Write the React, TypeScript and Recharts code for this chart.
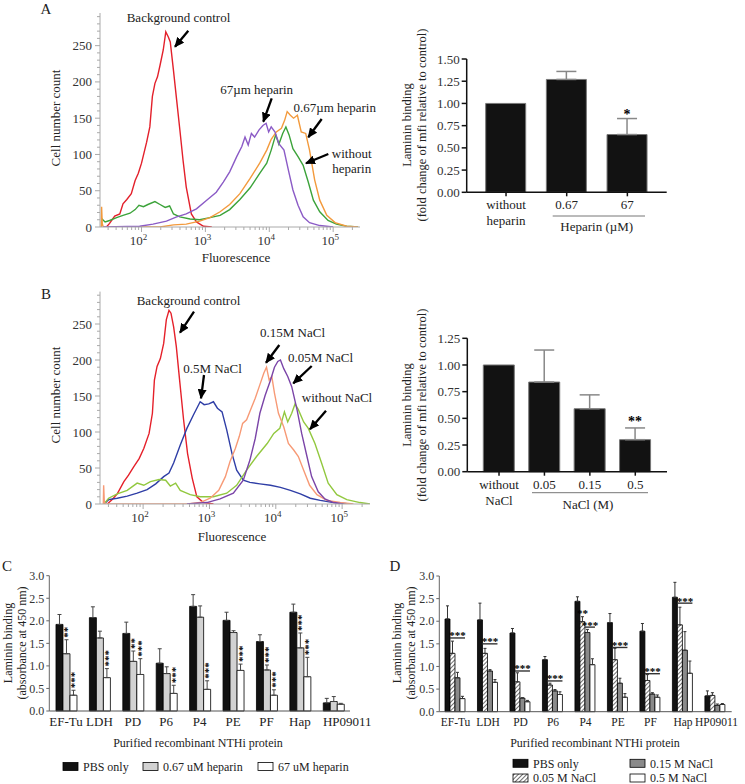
import React from 'react'
import {
  LineChart,
  Line,
  XAxis,
  YAxis,
  BarChart,
  Bar,
  ComposedChart,
  ErrorBar,
  LabelList,
  Legend
} from 'recharts'

const FONT = '"Liberation Serif", "DejaVu Serif", serif'

// ---------- flow cytometry histograms: [log10 fluorescence, cell count]
const bgControlA: [number, number][] = [
  [1.45, 0], [1.50, 5], [1.58, 15], [1.66, 18], [1.71, 32], [1.77, 38], [1.84, 46], [1.90, 64], [1.95, 74],
  [2.00, 88], [2.08, 117], [2.13, 138], [2.17, 180], [2.21, 198], [2.25, 207], [2.29, 223], [2.34, 244],
  [2.38, 269], [2.42, 262], [2.45, 255], [2.50, 216], [2.55, 175], [2.60, 134], [2.65, 92], [2.70, 55],
  [2.78, 18], [2.86, 7], [2.97, 1], [3.10, 0]
]
const withoutHeparinA: [number, number][] = [
  [1.37, 12], [1.43, 7], [1.50, 9], [1.61, 13], [1.71, 16], [1.82, 19], [1.90, 24], [1.96, 30], [2.03, 28],
  [2.10, 31], [2.21, 35], [2.29, 31], [2.37, 27], [2.44, 29], [2.50, 18], [2.60, 14], [2.76, 11], [2.91, 10],
  [3.07, 13], [3.23, 16], [3.38, 24], [3.54, 38], [3.70, 54], [3.85, 74], [3.96, 88], [4.03, 106], [4.10, 127],
  [4.15, 114], [4.21, 129], [4.26, 138], [4.31, 127], [4.37, 108], [4.45, 97], [4.53, 85], [4.61, 62],
  [4.69, 37], [4.79, 21], [4.92, 9], [5.05, 4], [5.21, 1], [5.39, 0]
]
const heparin067A: [number, number][] = [
  [1.37, 0], [1.375, 28], [1.385, 5], [1.40, 0], [2.29, 0], [2.50, 3], [2.70, 4], [2.91, 8], [3.07, 13],
  [3.23, 21], [3.38, 31], [3.54, 46], [3.70, 67], [3.85, 88], [3.96, 106], [4.03, 121], [4.11, 131],
  [4.19, 136], [4.24, 147], [4.28, 159], [4.33, 154], [4.38, 150], [4.44, 154], [4.50, 131], [4.57, 129],
  [4.63, 106], [4.71, 65], [4.79, 37], [4.90, 16], [5.03, 6], [5.21, 1], [5.39, 0]
]
const heparin67A: [number, number][] = [
  [1.40, 0], [1.97, 1], [2.18, 4], [2.39, 8], [2.55, 14], [2.70, 18], [2.86, 25], [3.02, 37], [3.17, 48],
  [3.28, 62], [3.38, 76], [3.49, 97], [3.57, 111], [3.62, 124], [3.67, 113], [3.72, 129], [3.77, 124],
  [3.84, 134], [3.90, 140], [3.95, 143], [3.99, 131], [4.03, 138], [4.09, 131], [4.15, 115], [4.23, 106],
  [4.30, 78], [4.37, 51], [4.45, 30], [4.53, 14], [4.63, 6], [4.79, 2], [5.00, 0]
]

const bgControlB: [number, number][] = [
  [1.46, 0], [1.53, 6], [1.61, 14], [1.71, 31], [1.78, 40], [1.86, 52], [1.94, 63], [2.01, 77], [2.09, 98],
  [2.14, 126], [2.17, 172], [2.21, 191], [2.26, 202], [2.31, 223], [2.35, 256], [2.39, 269], [2.42, 265],
  [2.46, 246], [2.50, 219], [2.55, 172], [2.61, 117], [2.67, 70], [2.74, 36], [2.81, 10], [2.91, 2], [3.06, 0]
]
const nacl05B: [number, number][] = [
  [1.41, 0], [1.48, 6], [1.61, 8], [1.76, 11], [1.91, 15], [2.06, 20], [2.19, 28], [2.31, 38], [2.39, 43],
  [2.46, 57], [2.56, 82], [2.66, 105], [2.76, 124], [2.86, 142], [2.92, 138], [2.99, 139], [3.06, 142],
  [3.12, 133], [3.19, 128], [3.26, 103], [3.34, 70], [3.41, 47], [3.51, 33], [3.61, 30], [3.76, 28],
  [3.92, 26], [4.07, 23], [4.22, 19], [4.37, 14], [4.52, 8], [4.67, 5], [4.87, 2], [5.12, 0]
]
const withoutNaclB: [number, number][] = [
  [1.41, 0], [1.48, 8], [1.61, 14], [1.76, 19], [1.91, 29], [2.01, 26], [2.11, 31], [2.24, 34], [2.34, 33],
  [2.41, 25], [2.49, 29], [2.56, 19], [2.71, 13], [2.86, 10], [3.06, 10], [3.26, 15], [3.41, 26], [3.56, 47],
  [3.71, 66], [3.87, 84], [3.97, 98], [4.06, 105], [4.13, 128], [4.18, 114], [4.24, 126], [4.29, 139],
  [4.34, 131], [4.42, 114], [4.49, 105], [4.59, 84], [4.69, 57], [4.79, 29], [4.92, 13], [5.07, 6], [5.27, 2], [5.42, 0]
]
const nacl015B: [number, number][] = [
  [1.40, 0], [1.405, 26], [1.415, 3], [1.43, 0], [2.66, 0], [2.86, 2], [3.01, 8], [3.14, 19], [3.24, 38],
  [3.31, 59], [3.39, 77], [3.45, 94], [3.50, 112], [3.56, 117], [3.62, 131], [3.69, 147], [3.75, 163],
  [3.82, 182], [3.86, 190], [3.90, 172], [3.94, 177], [3.98, 154], [4.04, 126], [4.12, 107], [4.19, 84],
  [4.27, 75], [4.34, 66], [4.42, 47], [4.51, 26], [4.62, 13], [4.77, 5], [4.97, 2], [5.17, 0]
]
const nacl005B: [number, number][] = [
  [2.66, 0], [2.96, 2], [3.16, 7], [3.36, 15], [3.51, 33], [3.61, 61], [3.69, 91], [3.76, 126], [3.84, 151],
  [3.92, 172], [3.98, 190], [4.03, 198], [4.07, 200], [4.12, 188], [4.18, 177], [4.24, 163], [4.32, 131],
  [4.39, 98], [4.47, 66], [4.54, 38], [4.64, 17], [4.74, 7], [4.87, 2], [5.02, 0]
]

const histA = [
  { name: 'Background control', data: bgControlA, color: '#e3202b' },
  { name: 'without heparin', data: withoutHeparinA, color: '#3ca33a' },
  { name: '0.67µm heparin', data: heparin067A, color: '#f39a3c' },
  { name: '67µm heparin', data: heparin67A, color: '#8b5bc6' }
]
const histB = [
  { name: 'Background control', data: bgControlB, color: '#e5202a' },
  { name: '0.5M NaCl', data: nacl05B, color: '#2f3ea6' },
  { name: 'without NaCl', data: withoutNaclB, color: '#92c83f' },
  { name: '0.15M NaCl', data: nacl015B, color: '#f79a76' },
  { name: '0.05M NaCl', data: nacl005B, color: '#7b45a8' }
]

const logDecades = [1, 2, 3, 4, 5]
const logMultipliers = [1, 2, 3, 4, 5, 6, 7, 8, 9]
const logDomain: [number, number] = [1.35, 5.42]
const logTicks = logDecades
  .flatMap(d => logMultipliers.map(m => d + Math.log10(m)))
  .filter(v => v >= logDomain[0] && v <= logDomain[1])
const countMajor = [0, 50, 100, 150, 200, 250]
const countTicks = Array.from({ length: 30 }, (_, i) => i * 10)

// ---------- mfi bar charts
const heparinLabels = [['without', 'heparin'], ['0.67'], ['67']]
const heparinMean = [1.0, 1.27, 0.65]
const heparinErr = [null, 0.09, 0.18]
const heparinStars = ['', '', '*']

const naclLabels = [['without', 'NaCl'], ['0.05'], ['0.15'], ['0.5']]
const naclMean = [1.0, 0.84, 0.59, 0.3]
const naclErr = [null, 0.3, 0.13, 0.11]
const naclStars = ['', '', '', '**']

// ---------- ELISA panels
const proteins = ['EF-Tu', 'LDH', 'PD', 'P6', 'P4', 'PE', 'PF', 'Hap', 'HP09011']

const cPbs = [1.92, 2.07, 1.72, 1.06, 2.32, 2.01, 1.54, 2.19, 0.18]
const cPbsErr = [0.22, 0.24, 0.25, 0.32, 0.26, 0.18, 0.15, 0.18, 0.10]
const cHep067 = [1.27, 1.62, 1.10, 0.83, 2.08, 1.74, 0.91, 1.40, 0.21]
const cHep067Err = [0.31, 0.15, 0.23, 0.15, 0.25, 0.04, 0.11, 0.33, 0.11]
const cHep67 = [0.35, 0.74, 0.81, 0.39, 0.48, 0.90, 0.35, 0.76, 0.15]
const cHep67Err = [0.11, 0.20, 0.35, 0.18, 0.19, 0.14, 0.12, 0.43, 0.02]
const cHep067Stars = ['**', '', '**', '', '', '', '***', '***', '']
const cHep67Stars = ['***', '***', '***', '***', '***', '***', '***', '***', '']
const cSeriesNames = ['PBS only', '0.67 uM heparin', '67 uM heparin']

const dPbs = [2.05, 2.03, 1.74, 1.15, 2.44, 1.97, 1.78, 2.53, 0.35]
const dPbsErr = [0.29, 0.37, 0.10, 0.07, 0.10, 0.20, 0.17, 0.33, 0.11]
const dNacl005 = [1.29, 1.29, 0.66, 0.59, 1.99, 1.15, 0.69, 1.92, 0.36]
const dNacl005Err = [0.27, 0.11, 0.20, 0.04, 0.11, 0.25, 0.13, 0.39, 0.06]
const dNacl015 = [0.75, 0.90, 0.30, 0.46, 1.75, 0.63, 0.39, 1.36, 0.14]
const dNacl015Err = [0.12, 0.03, 0.01, 0.03, 0.07, 0.11, 0.03, 0.41, 0.03]
const dNacl05 = [0.29, 0.65, 0.22, 0.38, 1.04, 0.32, 0.32, 0.85, 0.16]
const dNacl05Err = [0.05, 0.06, 0.03, 0.06, 0.13, 0.08, 0.05, 0.27, 0.02]
const dNacl005Stars = ['', '', '', '', '**', '', '', '', '']
const dBracketTop = [1.63, 1.50, 0.90, 0.68, 1.87, 1.42, 0.84, 2.40, null]
const dBracketBars = [3, 3, 3, 3, 2, 3, 3, 3, 0]
const dSeriesNames = ['PBS only', '0.05 M NaCl', '0.15 M NaCl', '0.5 M NaCl']

const absTicks = [0, 0.5, 1, 1.5, 2, 2.5, 3]

const heparinData = heparinLabels.map((l, i) => ({
  cat: l.join(' '),
  val: heparinMean[i],
  err: heparinErr[i] == null ? null : [0, heparinErr[i]]
}))
const naclData = naclLabels.map((l, i) => ({
  cat: l.join(' '),
  val: naclMean[i],
  err: naclErr[i] == null ? null : [0, naclErr[i]]
}))
const cData = proteins.map((p, i) => ({
  name: p,
  pbs: cPbs[i], pbsErr: [0, cPbsErr[i]],
  h1: cHep067[i], h1Err: [0, cHep067Err[i]],
  h2: cHep67[i], h2Err: [0, cHep67Err[i]]
}))
const dData = proteins.map((p, i) => ({
  name: p,
  pbs: dPbs[i], pbsErr: [0, dPbsErr[i]],
  n1: dNacl005[i], n1Err: [0, dNacl005Err[i]],
  n2: dNacl015[i], n2Err: [0, dNacl015Err[i]],
  n3: dNacl05[i], n3Err: [0, dNacl05Err[i]]
}))

// ---------- helpers
const box = (p: any) => {
  const vb = p.viewBox || p
  return { x: Number(vb.x), y: Number(vb.y), w: Number(vb.width), h: Number(vb.height), i: p.index }
}

const LogTick = (p: any) => {
  const v = p.payload.value
  const major = Math.abs(v - Math.round(v)) < 1e-6
  return (
    <g>
      <line x1={p.x} x2={p.x} y1={p.y} y2={p.y + (major ? 5 : 3)} stroke="#aaa" />
      {major && (
        <text x={p.x - 3} y={p.y + 18} textAnchor="middle" fontSize={13} fontFamily={FONT} fill="#333">
          10<tspan dy={-5} fontSize={9}>{Math.round(v)}</tspan>
        </text>
      )}
    </g>
  )
}

const CountTick = (p: any) => {
  const v = p.payload.value
  const major = countMajor.includes(v)
  return (
    <g>
      <line x1={p.x - (major ? 5 : 3)} x2={p.x} y1={p.y} y2={p.y} stroke="#aaa" />
      {major && (
        <text x={p.x - 8} y={p.y} dy="0.35em" textAnchor="end" fontSize={13} fontFamily={FONT} fill="#333">
          {v}
        </text>
      )}
    </g>
  )
}

function Histogram({ series, width, height, margin }: any) {
  return (
    <LineChart width={width} height={height} margin={margin}>
      <XAxis
        type="number"
        dataKey="x"
        domain={logDomain}
        allowDataOverflow
        ticks={logTicks}
        interval={0}
        tick={LogTick}
        tickLine={false}
        tickSize={0}
        tickMargin={0}
        stroke="#aaa"
        height={30}
      />
      <YAxis
        type="number"
        domain={[0, 295]}
        allowDataOverflow
        ticks={countTicks}
        interval={0}
        tick={CountTick}
        tickLine={false}
        tickSize={0}
        tickMargin={0}
        stroke="#aaa"
        width={40}
      />
      {series.map((s: any) => (
        <Line
          key={s.name}
          name={s.name}
          data={s.data.map(([x, y]: [number, number]) => ({ x, y }))}
          dataKey="y"
          type="linear"
          stroke={s.color}
          strokeWidth={1.4}
          dot={false}
          isAnimationActive={false}
        />
      ))}
    </LineChart>
  )
}

const catTick = (labels: string[][], dy: number) => (p: any) => {
  const lines = labels[p.index] || []
  return (
    <g>
      {lines.map((t, k) => (
        <text key={k} x={p.x} y={p.y + dy + k * 16} textAnchor="middle" fontSize={13} fontFamily={FONT} fill="#222">
          {t}
        </text>
      ))}
    </g>
  )
}

// protein tick labels; the last one sits a little right, as in the figure
const proteinTick = (size: number, lastShift: number) => (p: any) => (
  <text
    x={p.x + (p.index === proteins.length - 1 ? lastShift : 0)}
    y={p.y}
    dy="0.71em"
    textAnchor="middle"
    fontSize={size}
    fontFamily={FONT}
    fill="#222"
  >
    {p.payload.value}
  </text>
)

const starAbove = (stars: string[], means: number[], errs: (number | null)[], lift: number, size = 14) => (p: any) => {
  const { x, y, w, h, i } = box(p)
  const s = stars[i]
  if (!s) return null
  const ppu = h / means[i]
  const top = y - (errs[i] || 0) * ppu
  return (
    <text x={x + w / 2} y={top - lift} textAnchor="middle" fontSize={size} fontWeight="bold" fontFamily={FONT} fill="#000">
      {s}
    </text>
  )
}

function MfiBars({ data, labels, stars, means, errs, yMax, ticks, margin, starLift }: any) {
  return (
    <ComposedChart width={300} height={220} data={data} margin={margin}>
      <XAxis
        dataKey="cat"
        type="category"
        padding={{ left: 9, right: 9 }}
        height={45}
        stroke="#111"
        strokeWidth={1.5}
        tickSize={4}
        tickMargin={2}
        interval={0}
        tick={catTick(labels, 11)}
      />
      <YAxis
        domain={[0, yMax]}
        ticks={ticks}
        interval={0}
        tickFormatter={(v: number) => v.toFixed(2)}
        width={40}
        stroke="#111"
        strokeWidth={1.5}
        tickSize={5}
        tickMargin={2}
        tick={{ fontSize: 13, fontFamily: FONT, fill: '#333' }}
      />
      <Bar dataKey="val" fill="#121212" stroke="#777" strokeWidth={1} barSize={labels.length === 3 ? 40 : 31} isAnimationActive={false}>
        <ErrorBar dataKey="err" width={10} stroke="#888" strokeWidth={1.5} direction="y" />
        <LabelList dataKey="val" content={starAbove(stars, means, errs, starLift)} />
      </Bar>
    </ComposedChart>
  )
}

const rotatedStars = (stars: string[], means: number[], errs: number[]) => (p: any) => {
  const { x, y, w, h, i } = box(p)
  const s = stars[i]
  if (!s) return null
  const ppu = h / means[i]
  const top = y - errs[i] * ppu
  return (
    <text transform={`translate(${x + w / 2 + 5},${top - 2}) rotate(-90)`} fontSize={11} fontWeight="bold" fontFamily={FONT} fill="#000">
      {s}
    </text>
  )
}

const bracketLabel = (p: any) => {
  const { x, y, w, h, i } = box(p)
  const top = dBracketTop[i]
  if (top == null) return null
  const ppu = h / dNacl05[i]
  const ly = y - (top - dNacl05[i]) * ppu
  const left = x - (dBracketBars[i] - 1) * w
  const right = x + w
  return (
    <g>
      <line x1={left} x2={right} y1={ly} y2={ly} stroke="#333" strokeWidth={1.4} />
      <text x={(left + right) / 2} y={ly + 1.5} textAnchor="middle" fontSize={11} fontWeight="bold" fontFamily={FONT} fill="#000">
        ***
      </text>
    </g>
  )
}

const absAxis = (
  <YAxis
    domain={[0, 3]}
    ticks={absTicks}
    interval={0}
    tickFormatter={(v: number) => v.toFixed(1)}
    width={35}
    stroke="#666"
    tickSize={3}
    tickMargin={2}
    tick={{ fontSize: 12, fontFamily: FONT, fill: '#333' }}
  />
)

const cSwatches = ['#121212', '#d2d2d2', '#ffffff']
const cLegendX = [63, 143, 258]
const LegendC = () => (
  <svg width={380} height={22}>
    {cSeriesNames.map((n, i) => (
      <g key={n}>
        <rect x={cLegendX[i]} y={6.5} width={15} height={8} fill={cSwatches[i]} stroke="#000" strokeWidth={0.8} />
        <text x={cLegendX[i] + 20} y={15} fontSize={12} fontFamily={FONT} fill="#222">{n}</text>
      </g>
    ))}
  </svg>
)

const dSwatches = ['#121212', 'url(#hatchD)', '#8a8a8a', '#ffffff']
const dLegendPos = [[133, 8.3], [133, 23], [250, 8.3], [250, 23]]
const LegendD = () => (
  <svg width={365} height={32}>
    {dSeriesNames.map((n, i) => (
      <g key={n}>
        <rect x={dLegendPos[i][0]} y={dLegendPos[i][1] - 4} width={15} height={8} fill={dSwatches[i]} stroke="#000" strokeWidth={0.8} />
        <text x={dLegendPos[i][0] + 20} y={dLegendPos[i][1] + 4.2} fontSize={12} fontFamily={FONT} fill="#222">{n}</text>
      </g>
    ))}
  </svg>
)

const T = (props: any) => <text fontFamily={FONT} fill="#222" textAnchor="middle" fontSize={13} {...props} />
const RT = ({ x, y, children, size = 13 }: any) => (
  <text
    transform={`translate(${x},${y}) rotate(-90)`}
    textAnchor="middle"
    dominantBaseline="central"
    fontFamily={FONT}
    fontSize={size}
    fill="#222"
  >
    {children}
  </text>
)
const Arrow = ({ x1, y1, x2, y2 }: any) => (
  <line x1={x1} y1={y1} x2={x2} y2={y2} stroke="#000" strokeWidth={2.3} markerEnd="url(#arrowHead)" />
)

export default function App() {
  return (
    <div style={{ position: 'absolute', left: 0, top: 0, width: 745, height: 784, background: '#fff', fontFamily: FONT }}>
      <svg width={0} height={0} style={{ position: 'absolute' }}>
        <defs>
          <pattern id="hatchD" patternUnits="userSpaceOnUse" width={3} height={3} patternTransform="rotate(45)">
            <rect width={3} height={3} fill="#fff" />
            <line x1={0} y1={0} x2={0} y2={3} stroke="#222" strokeWidth={1.3} />
          </pattern>
        </defs>
      </svg>

      <div style={{ position: 'absolute', left: 0, top: 0 }}>
        <Histogram series={histA} width={380} height={270} margin={{ top: 13, right: 20, left: 60, bottom: 13 }} />
      </div>
      <div style={{ position: 'absolute', left: 0, top: 280 }}>
        <Histogram series={histB} width={390} height={270} margin={{ top: 11.6, right: 20, left: 60, bottom: 16 }} />
      </div>

      <div style={{ position: 'absolute', left: 380, top: 30 }}>
        <MfiBars
          data={heparinData}
          labels={heparinLabels}
          stars={heparinStars}
          means={heparinMean}
          errs={heparinErr}
          yMax={1.5}
          ticks={[0, 0.25, 0.5, 0.75, 1, 1.25, 1.5]}
          margin={{ top: 29, right: 13.3, left: 46.7, bottom: 12.7 }}
          starLift={0}
        />
      </div>
      <div style={{ position: 'absolute', left: 380, top: 310 }}>
        <MfiBars
          data={naclData}
          labels={naclLabels}
          stars={naclStars}
          means={naclMean}
          errs={naclErr}
          yMax={1.25}
          ticks={[0, 0.25, 0.5, 0.75, 1, 1.25]}
          margin={{ top: 28.3, right: 13, left: 47.3, bottom: 13.3 }}
          starLift={2}
        />
      </div>

      <div style={{ position: 'absolute', left: 0, top: 560 }}>
        <BarChart width={380} height={224} data={cData} margin={{ top: 15.7, right: 30, left: 14.3, bottom: 53 }} barGap={0} barCategoryGap="20%">
          <XAxis dataKey="name" stroke="#555" tickLine={false} tickSize={0} tickMargin={6} interval={0} height={20} tick={proteinTick(13, 14)} />
          {absAxis}
          <Legend verticalAlign="middle" align="center" layout="horizontal" wrapperStyle={{ left: 0, top: 196, width: 380 }} content={LegendC} />
          <Bar dataKey="pbs" name={cSeriesNames[0]} fill={cSwatches[0]} stroke="#000" strokeWidth={0.8} isAnimationActive={false}>
            <ErrorBar dataKey="pbsErr" width={2} stroke="#444" strokeWidth={1} direction="y" />
          </Bar>
          <Bar dataKey="h1" name={cSeriesNames[1]} fill={cSwatches[1]} stroke="#000" strokeWidth={0.8} isAnimationActive={false}>
            <ErrorBar dataKey="h1Err" width={2} stroke="#444" strokeWidth={1} direction="y" />
            <LabelList dataKey="h1" content={rotatedStars(cHep067Stars, cHep067, cHep067Err)} />
          </Bar>
          <Bar dataKey="h2" name={cSeriesNames[2]} fill={cSwatches[2]} stroke="#000" strokeWidth={0.8} isAnimationActive={false}>
            <ErrorBar dataKey="h2Err" width={2} stroke="#444" strokeWidth={1} direction="y" />
            <LabelList dataKey="h2" content={rotatedStars(cHep67Stars, cHep67, cHep67Err)} />
          </Bar>
        </BarChart>
      </div>

      <div style={{ position: 'absolute', left: 380, top: 560 }}>
        <BarChart width={365} height={224} data={dData} margin={{ top: 16, right: 13.3, left: 24.3, bottom: 52.3 }} barGap={0} barCategoryGap="17.5%">
          <XAxis dataKey="name" stroke="#555" tickLine={false} tickSize={0} tickMargin={6} interval={0} height={20} tick={proteinTick(11.5, 1)} />
          {absAxis}
          <Legend verticalAlign="middle" align="center" layout="horizontal" wrapperStyle={{ left: 0, top: 195, width: 365 }} content={LegendD} />
          <Bar dataKey="pbs" name={dSeriesNames[0]} fill={dSwatches[0]} stroke="#000" strokeWidth={0.8} isAnimationActive={false}>
            <ErrorBar dataKey="pbsErr" width={1.5} stroke="#333" strokeWidth={1} direction="y" />
          </Bar>
          <Bar dataKey="n1" name={dSeriesNames[1]} fill={dSwatches[1]} stroke="#000" strokeWidth={0.8} isAnimationActive={false}>
            <ErrorBar dataKey="n1Err" width={1.5} stroke="#333" strokeWidth={1} direction="y" />
            <LabelList dataKey="n1" content={starAbove(dNacl005Stars, dNacl005, dNacl005Err, -0.5, 11)} />
          </Bar>
          <Bar dataKey="n2" name={dSeriesNames[2]} fill={dSwatches[2]} stroke="#000" strokeWidth={0.8} isAnimationActive={false}>
            <ErrorBar dataKey="n2Err" width={1.5} stroke="#333" strokeWidth={1} direction="y" />
          </Bar>
          <Bar dataKey="n3" name={dSeriesNames[3]} fill={dSwatches[3]} stroke="#000" strokeWidth={0.8} isAnimationActive={false}>
            <ErrorBar dataKey="n3Err" width={1.5} stroke="#333" strokeWidth={1} direction="y" />
            <LabelList dataKey="n3" content={bracketLabel} />
          </Bar>
        </BarChart>
      </div>

      {/* annotations, titles and panel letters */}
      <svg width={745} height={784} style={{ position: 'absolute', left: 0, top: 0, pointerEvents: 'none' }}>
        <defs>
          <marker id="arrowHead" markerUnits="userSpaceOnUse" markerWidth={10} markerHeight={9} refX={9} refY={4.5} orient="auto">
            <path d="M0,0 L10,4.5 L0,9 z" fill="#000" />
          </marker>
        </defs>

        <T x={46} y={14} fontSize={15}>A</T>
        <T x={178.5} y={22}>Background control</T>
        <Arrow x1={188.3} y1={30.7} x2={175} y2={46.7} />
        <T x={256.7} y={93.5}>67µm heparin</T>
        <Arrow x1={271.7} y1={98.3} x2={263.3} y2={121.7} />
        <T x={334.7} y={111.5}>0.67µm heparin</T>
        <Arrow x1={321.7} y1={119} x2={308.3} y2={137.3} />
        <T x={351.7} y={158}>without</T>
        <T x={351.7} y={173}>heparin</T>
        <Arrow x1={328.3} y1={154} x2={306} y2={163.3} />
        <T x={236} y={262}>Fluorescence</T>
        <RT x={55} y={118}>Cell number count</RT>

        <RT x={406.7} y={125} size={12.5}>Laminin binding</RT>
        <RT x={421.7} y={125} size={12.5}>(fold change of mfi relative to control)</RT>
        <line x1={552.7} x2={645} y1={216} y2={216} stroke="#777" strokeWidth={1} />
        <T x={596.7} y={231}>Heparin (µM)</T>

        <T x={46} y={299} fontSize={15}>B</T>
        <T x={188.5} y={305}>Background control</T>
        <Arrow x1={194} y1={311.7} x2={180} y2={332.7} />
        <T x={212.5} y={372.5}>0.5M NaCl</T>
        <Arrow x1={204} y1={375} x2={201} y2={398.3} />
        <T x={292.5} y={337}>0.15M NaCl</T>
        <Arrow x1={279.3} y1={345} x2={266} y2={362.7} />
        <T x={320.5} y={361.5}>0.05M NaCl</T>
        <Arrow x1={311.7} y1={366} x2={293.3} y2={383.3} />
        <T x={337} y={402}>without NaCl</T>
        <Arrow x1={326} y1={410.7} x2={310} y2={429.3} />
        <T x={232} y={541}>Fluorescence</T>
        <RT x={55} y={395}>Cell number count</RT>

        <RT x={406.7} y={405} size={12.5}>Laminin binding</RT>
        <RT x={421.7} y={405} size={12.5}>(fold change of mfi relative to control)</RT>
        <line x1={532} x2={648} y1={492.7} y2={492.7} stroke="#777" strokeWidth={1} />
        <T x={588} y={508.5}>NaCl (M)</T>

        <T x={7} y={571} fontSize={15}>C</T>
        <RT x={8} y={643} size={12}>Laminin binding</RT>
        <RT x={22} y={643} size={12}>(absorbance at 450 nm)</RT>
        <T x={198} y={747} fontSize={12}>Purified recombinant NTHi protein</T>

        <T x={395} y={571} fontSize={15}>D</T>
        <RT x={396.7} y={643} size={12}>Laminin binding</RT>
        <RT x={410.5} y={643} size={12}>(absorbance at 450 nm)</RT>
        <T x={595} y={747} fontSize={12}>Purified recombinant NTHi protein</T>
      </svg>
    </div>
  )
}
